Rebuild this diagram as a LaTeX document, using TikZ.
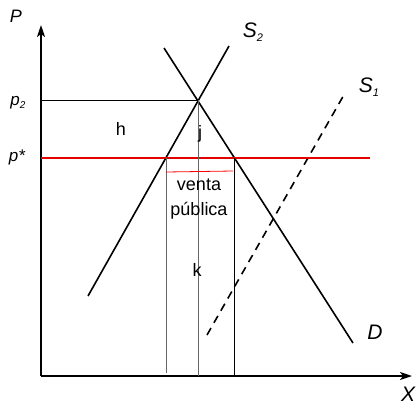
\documentclass[tikz,border=0pt]{standalone}
\usepackage{fontspec}
\setmainfont{Liberation Sans}
\usetikzlibrary{arrows.meta}
\begin{document}
\begin{tikzpicture}[x=1pt,y=-1pt,
  axis/.style={line width=1.8pt,-{Stealth[length=12pt,width=8pt,inset=3pt]}},
  curve/.style={line width=1.6pt},
  thin/.style={line width=0.8pt},
  guide/.style={line width=0.9pt,gray!80!black},
  redline/.style={line width=1.6pt,red!90!black},
  lbl/.style={font=\fontsize{18}{20}\selectfont,inner sep=0pt},
  big/.style={font=\fontsize{21}{23}\selectfont\itshape,inner sep=0pt},
  plbl/.style={font=\fontsize{18}{20}\selectfont\itshape,inner sep=0pt}]
\useasboundingbox (0,0) rectangle (420,405);
% axes
\coordinate (O) at (41,376);
\coordinate (ytop) at (41,25);
\coordinate (xend) at (412,376);
\draw[axis] (O) -- (ytop);
\draw[axis] (O) -- (xend);
% curves
\coordinate (s2a) at (88,296);
\coordinate (s2b) at (229,46);
\coordinate (da) at (164,48);
\coordinate (db) at (353,343);
\coordinate (s1a) at (207,335);
\coordinate (s1b) at (345,93);
\draw[curve] (s2a) -- (s2b);
\draw[curve] (da) -- (db);
\draw[curve,dash pattern=on 8pt off 6pt] (s1a) -- (s1b);
% key points
\coordinate (E) at (198,100);
\coordinate (p2) at (41,100);
\coordinate (ps) at (41,158);
\coordinate (rend) at (370,158);
\coordinate (A) at (166,158);
\coordinate (B) at (234,158);
\coordinate (Abot) at (166,373);
\coordinate (Ebot) at (198,376);
\coordinate (Bbot) at (234,376);
\coordinate (ra) at (166,172);
\coordinate (rb) at (233,171);
\draw[thin] (p2) -- (E);
\draw[redline] (ps) -- (rend);
\draw[guide] (A) -- (Abot);
\draw[guide] (E) -- (Ebot);
\draw[thin] (B) -- (Bbot);
\draw[line width=0.8pt,red] (ra) -- (rb);
% labels
\node[plbl] (P) at (16,16) {P};
\node[big] (X) at (408,394) {X};
\node[plbl,font=\fontsize{17}{19}\selectfont\itshape] (lp2) at (18,103) {p\raisebox{-0.3ex}{\fontsize{10}{11}\selectfont 2}};
\node[plbl,font=\fontsize{17}{19}\selectfont\itshape] (lps) at (17,157) {p*};
\node[lbl] (h) at (121,129) {h};
\node[lbl] (j) at (200,134) {j};
\node[lbl,align=center] (vp) at (199,199) {venta\\[5pt]pública};
\node[lbl] (k) at (197,270) {k};
\node[big] (S2) at (253,32) {S\raisebox{-0.4ex}{\fontsize{11}{12}\selectfont 2}};
\node[big] (S1) at (369,87) {S\raisebox{-0.4ex}{\fontsize{11}{12}\selectfont 1}};
\node[big] (D) at (375,332) {D};
\end{tikzpicture}
\end{document}
